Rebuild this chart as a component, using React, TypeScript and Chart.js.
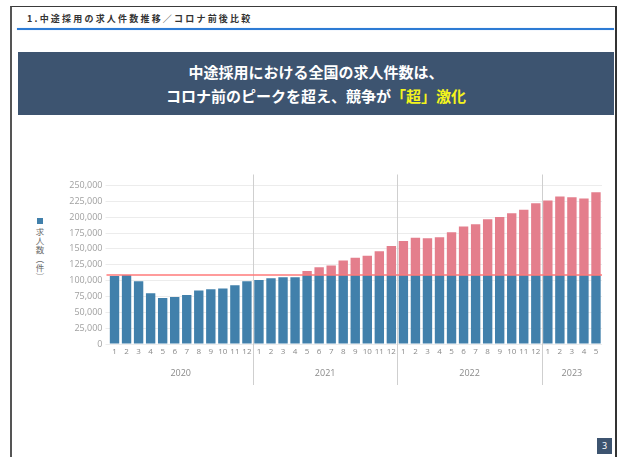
import { useEffect, useRef } from "react";
import { Chart, registerables } from "chart.js";

Chart.register(...registerables);

const monthLabels = [
  "1", "2", "3", "4", "5", "6", "7", "8", "9", "10", "11", "12",
  "1", "2", "3", "4", "5", "6", "7", "8", "9", "10", "11", "12",
  "1", "2", "3", "4", "5", "6", "7", "8", "9", "10", "11", "12",
  "1", "2", "3", "4", "5",
];
const yearLabels = ["2020", "2021", "2022", "2023"];
const monthsPerYear = [12, 12, 12, 5];

// portion of job openings up to the pre-COVID peak (blue)
const baseValues = [
  107400, 109000, 99000, 80000, 72600, 74200, 77400, 84200, 86300, 87400, 92600, 99000,
  101000, 103700, 105300, 105300, 109000, 109000, 109000, 109000, 109000, 109000, 109000, 109000,
  109000, 109000, 109000, 109000, 109000, 109000, 109000, 109000, 109000, 109000, 109000, 109000,
  109000, 109000, 109000, 109000, 109000,
];
// portion exceeding the pre-COVID peak (pink)
const excessValues = [
  0, 0, 0, 0, 0, 0, 0, 0, 0, 0, 0, 0,
  0, 0, 0, 0, 6000, 12000, 14700, 22600, 27000, 30000, 37300, 45700,
  53600, 58400, 57800, 59400, 67300, 76300, 80000, 87800, 91500, 97300, 102600, 113000,
  117300, 123600, 122600, 120500, 130500,
];
const preCovidPeak = 109000;
const yMax = 250000;
const yStep = 25000;

const headerTitle = "1.中途採用の求人件数推移／コロナ前後比較";
const bannerLine1 = "中途採用における全国の求人件数は、";
const bannerLine2a = "コロナ前のピークを超え、競争が";
const bannerLine2b = "「超」激化";
const legendLabel = "求人数（件）";
const pageNumber = "3";

const JP = '"Noto Sans CJK JP", "Noto Sans", sans-serif';

export default function App() {
  const canvasRef = useRef<HTMLCanvasElement | null>(null);

  useEffect(() => {
    const canvas = canvasRef.current;
    if (!canvas) return;

    const overlay = {
      id: "overlay",
      beforeDatasetsDraw(chart: any) {
        const { ctx, chartArea, scales } = chart;
        const x = scales.x;
        ctx.save();
        ctx.strokeStyle = "#cfcfcf";
        ctx.lineWidth = 1;
        ctx.fillStyle = "#8a8a8a";
        ctx.font = '9px "Open Sans", "Noto Sans", sans-serif';
        ctx.textAlign = "center";
        ctx.textBaseline = "middle";
        let start = 0;
        monthsPerYear.forEach((n, i) => {
          const end = start + n - 1;
          const left =
            i === 0
              ? chartArea.left
              : (x.getPixelForValue(start - 1) + x.getPixelForValue(start)) / 2;
          const right =
            i === monthsPerYear.length - 1
              ? chartArea.right
              : (x.getPixelForValue(end) + x.getPixelForValue(end + 1)) / 2;
          if (i > 0) {
            const sx = Math.round(left) + 0.5;
            ctx.beginPath();
            ctx.moveTo(sx, chartArea.top - 11);
            ctx.lineTo(sx, chartArea.bottom + 41);
            ctx.stroke();
          }
          ctx.fillText(yearLabels[i], (left + right) / 2, chartArea.bottom + 29);
          start += n;
        });
        ctx.restore();
      },
      afterDatasetsDraw(chart: any) {
        const { ctx, chartArea, scales } = chart;
        const py = scales.y.getPixelForValue(preCovidPeak);
        ctx.save();
        ctx.strokeStyle = "#ff7a7a";
        ctx.lineWidth = 1.5;
        ctx.beginPath();
        ctx.moveTo(chartArea.left - 2, py);
        ctx.lineTo(chartArea.right, py);
        ctx.stroke();
        ctx.restore();
      },
    };

    const chart = new Chart(canvas, {
      type: "bar",
      data: {
        labels: monthLabels,
        datasets: [
          {
            label: "base",
            data: baseValues,
            backgroundColor: "#4180ab",
            barPercentage: 0.78,
            categoryPercentage: 1,
          },
          {
            label: "excess",
            data: excessValues,
            backgroundColor: "#e47e8c",
            barPercentage: 0.78,
            categoryPercentage: 1,
          },
        ],
      },
      options: {
        animation: false,
        responsive: false,
        maintainAspectRatio: false,
        layout: { padding: { top: 25.5, right: 10, left: 0, bottom: 0 } },
        plugins: {
          legend: { display: false },
          tooltip: { enabled: false },
        },
        scales: {
          x: {
            stacked: true,
            grid: { display: false, drawTicks: false },
            border: { display: false },
            ticks: {
              color: "#8a8a8a",
              font: { size: 8, family: '"Open Sans", "Noto Sans", sans-serif' },
              padding: 3,
              maxRotation: 0,
              autoSkip: false,
            },
            afterFit: (scale: any) => {
              scale.height = 56;
            },
          },
          y: {
            stacked: true,
            min: 0,
            max: yMax,
            border: { display: false },
            grid: { color: "#ececec", tickLength: 3, lineWidth: 1 },
            ticks: {
              stepSize: yStep,
              color: "#a0a0a0",
              padding: 3,
              font: { size: 9, family: '"Open Sans", "Noto Sans", sans-serif' },
              callback: (v: any) => Number(v).toLocaleString("en-US"),
            },
            afterFit: (scale: any) => {
              scale.width = 68.5;
            },
          },
        },
      },
      plugins: [overlay],
    });

    return () => chart.destroy();
  }, []);

  return (
    <div
      style={{
        position: "absolute",
        left: 0,
        top: 0,
        width: 618,
        height: 457,
        background: "#fff",
        overflow: "hidden",
        fontFamily: JP,
      }}
    >
      {/* slide frame */}
      <div
        style={{
          position: "absolute",
          left: 10,
          top: 6,
          width: 603,
          height: 470,
          borderTop: "1.5px solid #3a3a3a",
          borderLeft: "2px solid #555",
          borderRight: "2px solid #333",
        }}
      />
      {/* header */}
      <div
        style={{
          position: "absolute",
          left: 27,
          top: 13,
          fontSize: 9,
          fontWeight: 700,
          letterSpacing: 2.2,
          color: "#333",
          whiteSpace: "nowrap",
          lineHeight: "12px",
        }}
      >
        {headerTitle}
      </div>
      <div
        style={{
          position: "absolute",
          left: 17,
          top: 28,
          width: 597,
          height: 2,
          background: "#2d7bd4",
          boxShadow: "0 0 1px #8fbaf0",
        }}
      />
      {/* banner */}
      <div
        style={{
          position: "absolute",
          left: 18,
          top: 52,
          width: 596,
          height: 63,
          background: "#3d5470",
          color: "#fff",
          fontWeight: 700,
          fontSize: 15,
          lineHeight: "24px",
          textAlign: "center",
          display: "flex",
          flexDirection: "column",
          justifyContent: "center",
        }}
      >
        <div>{bannerLine1}</div>
        <div>
          {bannerLine2a}
          <span style={{ color: "#f4f41c" }}>{bannerLine2b}</span>
        </div>
      </div>
      {/* legend */}
      <div
        style={{
          position: "absolute",
          left: 37,
          top: 218,
          width: 6,
          height: 6,
          background: "#4180ab",
        }}
      />
      <div
        style={{
          position: "absolute",
          left: 35,
          top: 228,
          writingMode: "vertical-rl",
          fontSize: 8.5,
          lineHeight: "10px",
          letterSpacing: 0.5,
          color: "#6a6a6a",
        }}
      >
        {legendLabel}
      </div>
      {/* chart */}
      <canvas
        ref={canvasRef}
        width={572}
        height={240}
        style={{ position: "absolute", left: 40, top: 160, width: 572, height: 240 }}
      />
      {/* page number */}
      <div
        style={{
          position: "absolute",
          left: 597,
          top: 438,
          width: 15,
          height: 16,
          background: "#3d5470",
          color: "#fff",
          fontSize: 9,
          lineHeight: "16px",
          textAlign: "center",
          fontFamily: '"Noto Sans", sans-serif',
        }}
      >
        {pageNumber}
      </div>
    </div>
  );
}
